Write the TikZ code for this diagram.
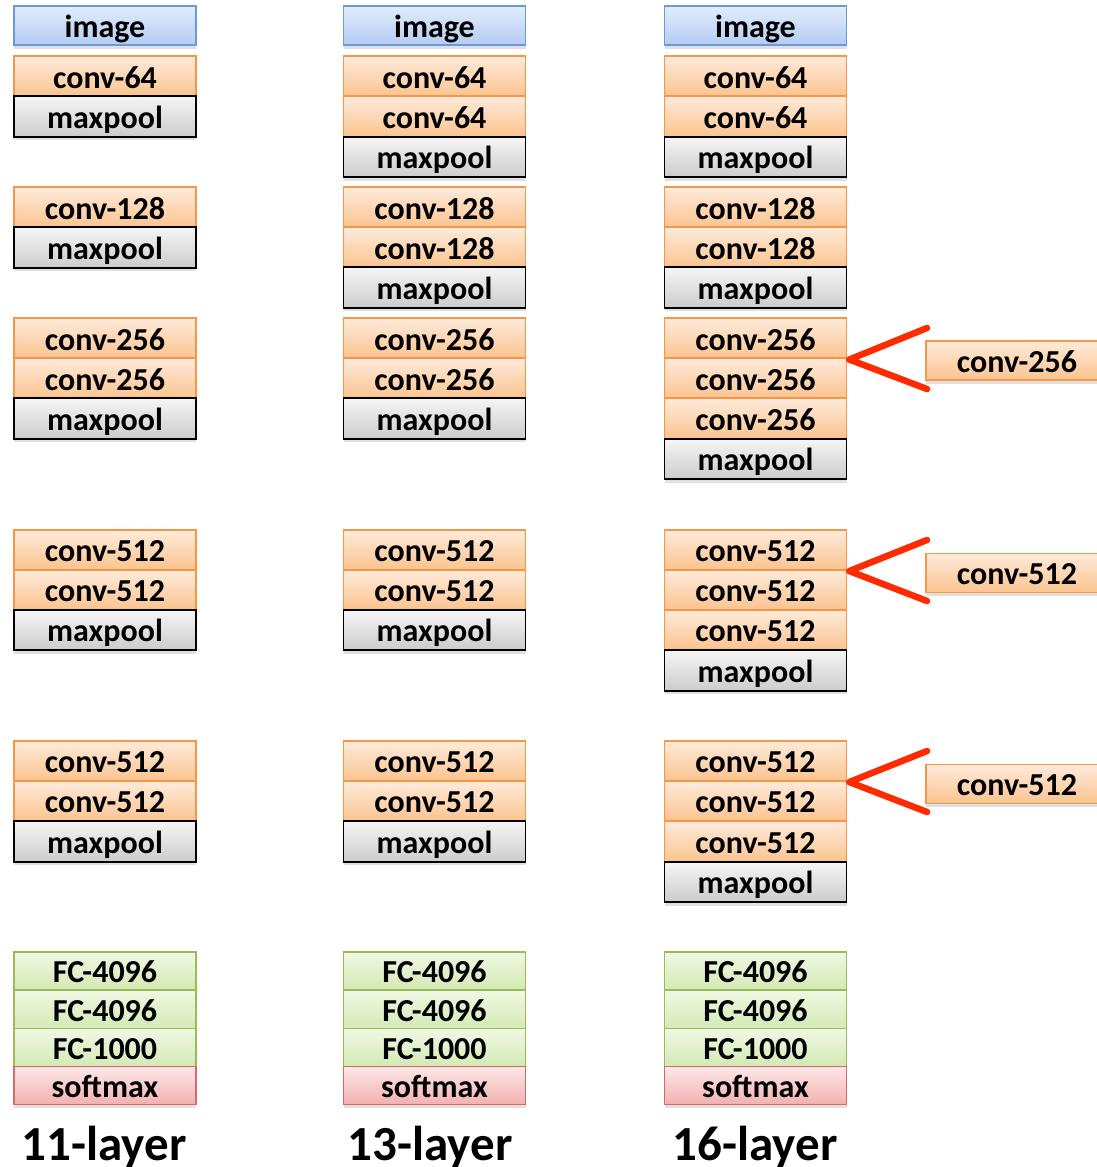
\documentclass[tikz,border=0pt]{standalone}
\usepackage{fontspec}
\setmainfont{Carlito}
\usetikzlibrary{shadows}

\definecolor{imgTop}{HTML}{E2ECFC}
\definecolor{imgBot}{HTML}{B4CCF2}
\definecolor{imgLine}{HTML}{6A9BD8}
\definecolor{convTop}{HTML}{FEEBDB}
\definecolor{convBot}{HTML}{FBC38E}
\definecolor{convLine}{HTML}{F79646}
\definecolor{poolTop}{HTML}{F5F5F5}
\definecolor{poolBot}{HTML}{CCCCCC}
\definecolor{fcTop}{HTML}{F0F8E4}
\definecolor{fcBot}{HTML}{D4E9B4}
\definecolor{fcLine}{HTML}{9BBB59}
\definecolor{smTop}{HTML}{FDE8E8}
\definecolor{smBot}{HTML}{F3B0B0}
\definecolor{smLine}{HTML}{D46A6A}
\definecolor{linkRed}{HTML}{FF2A00}

\tikzset{
  layer/.style={minimum width=182pt, minimum height=40.5pt, inner sep=0pt,
    line width=1.6pt, text height=23pt, text depth=0pt,
    font=\fontsize{32}{32}\selectfont\bfseries,
    drop shadow={shadow xshift=0pt, shadow yshift=-3.5pt, opacity=0.12, fill=black}},
  imgbox/.style={layer, minimum height=39pt, top color=imgTop, bottom color=imgBot, draw=imgLine},
  convbox/.style={layer, top color=convTop, bottom color=convBot, draw=convLine},
  poolbox/.style={layer, top color=poolTop, bottom color=poolBot, draw=black},
  fcbox/.style={layer, minimum height=38pt, top color=fcTop, bottom color=fcBot, draw=fcLine},
  smbox/.style={layer, minimum height=38pt, top color=smTop, bottom color=smBot, draw=smLine},
  depth/.style={font=\fontsize{49}{49}\selectfont\bfseries, inner sep=0pt, anchor=base},
  redlink/.style={draw=linkRed, line width=6.5pt, line cap=round, line join=round}
}

\begin{document}
\begin{tikzpicture}[x=1pt, y=-1pt]
  \useasboundingbox[fill=white] (0,0) rectangle (1096,1167);

  % 11-layer network
  \node[imgbox]  (a1)  at (105,25.5) {image};
  \node[convbox] (a2)  at (105,76.5) {conv-64};
  \node[poolbox] (a3)  at (105,116.5) {maxpool};
  \node[convbox] (a4)  at (105,207.5) {conv-128};
  \node[poolbox] (a5)  at (105,247.5) {maxpool};
  \node[convbox] (a6)  at (105,338.5) {conv-256};
  \node[convbox] (a7)  at (105,378.5) {conv-256};
  \node[poolbox] (a8)  at (105,418.5) {maxpool};
  \node[convbox] (a9)  at (105,550) {conv-512};
  \node[convbox] (a10) at (105,590) {conv-512};
  \node[poolbox] (a11) at (105,630) {maxpool};
  \node[convbox] (a12) at (105,761) {conv-512};
  \node[convbox] (a13) at (105,801) {conv-512};
  \node[poolbox] (a14) at (105,841.5) {maxpool};
  \node[fcbox]   (a15) at (105,971) {FC-4096};
  \node[fcbox]   (a16) at (105,1009.5) {FC-4096};
  \node[fcbox]   (a17) at (105,1047.5) {FC-1000};
  \node[smbox]   (a18) at (105,1085.5) {softmax};
  \node[depth]   (la)  at (104,1160) {11-layer};

  % 13-layer network
  \node[imgbox]  (b1)  at (434.5,25.5) {image};
  \node[convbox] (b2)  at (434.5,76.5) {conv-64};
  \node[convbox] (b3)  at (434.5,116.5) {conv-64};
  \node[poolbox] (b4)  at (434.5,157) {maxpool};
  \node[convbox] (b5)  at (434.5,207.5) {conv-128};
  \node[convbox] (b6)  at (434.5,247.5) {conv-128};
  \node[poolbox] (b7)  at (434.5,287.5) {maxpool};
  \node[convbox] (b8)  at (434.5,338.5) {conv-256};
  \node[convbox] (b9)  at (434.5,378.5) {conv-256};
  \node[poolbox] (b10) at (434.5,418.5) {maxpool};
  \node[convbox] (b11) at (434.5,550) {conv-512};
  \node[convbox] (b12) at (434.5,590) {conv-512};
  \node[poolbox] (b13) at (434.5,630) {maxpool};
  \node[convbox] (b14) at (434.5,761) {conv-512};
  \node[convbox] (b15) at (434.5,801) {conv-512};
  \node[poolbox] (b16) at (434.5,841.5) {maxpool};
  \node[fcbox]   (b17) at (434.5,971) {FC-4096};
  \node[fcbox]   (b18) at (434.5,1009.5) {FC-4096};
  \node[fcbox]   (b19) at (434.5,1047.5) {FC-1000};
  \node[smbox]   (b20) at (434.5,1085.5) {softmax};
  \node[depth]   (lb)  at (430,1160) {13-layer};

  % 16-layer network
  \node[imgbox]  (c1)  at (755.5,25.5) {image};
  \node[convbox] (c2)  at (755.5,76.5) {conv-64};
  \node[convbox] (c3)  at (755.5,116.5) {conv-64};
  \node[poolbox] (c4)  at (755.5,157) {maxpool};
  \node[convbox] (c5)  at (755.5,207.5) {conv-128};
  \node[convbox] (c6)  at (755.5,247.5) {conv-128};
  \node[poolbox] (c7)  at (755.5,287.5) {maxpool};
  \node[convbox] (c8)  at (755.5,338.5) {conv-256};
  \node[convbox] (c9)  at (755.5,378.5) {conv-256};
  \node[convbox] (c10) at (755.5,418.5) {conv-256};
  \node[poolbox] (c11) at (755.5,459) {maxpool};
  \node[convbox] (c12) at (755.5,550) {conv-512};
  \node[convbox] (c13) at (755.5,590) {conv-512};
  \node[convbox] (c14) at (755.5,630) {conv-512};
  \node[poolbox] (c15) at (755.5,670.5) {maxpool};
  \node[convbox] (c16) at (755.5,761) {conv-512};
  \node[convbox] (c17) at (755.5,801) {conv-512};
  \node[convbox] (c18) at (755.5,841.5) {conv-512};
  \node[poolbox] (c19) at (755.5,882) {maxpool};
  \node[fcbox]   (c20) at (755.5,971) {FC-4096};
  \node[fcbox]   (c21) at (755.5,1009.5) {FC-4096};
  \node[fcbox]   (c22) at (755.5,1047.5) {FC-1000};
  \node[smbox]   (c23) at (755.5,1085.5) {softmax};
  \node[depth]   (lc)  at (755,1160) {16-layer};

  % added conv layers
  \node[convbox, minimum height=39pt] (x1) at (1017,360.5) {conv-256};
  \node[convbox, minimum height=39pt] (x2) at (1017,573) {conv-512};
  \node[convbox, minimum height=39pt] (x3) at (1017,784) {conv-512};

  % red wedges marking where the extra layers go
  \coordinate (t1) at (c8.south east);
  \coordinate (t2) at (c12.south east);
  \coordinate (t3) at (c16.south east);
  \coordinate (u1) at (927,328);  \coordinate (v1) at (927,389);
  \coordinate (u2) at (927,540);  \coordinate (v2) at (927,601);
  \coordinate (u3) at (927,751);  \coordinate (v3) at (927,812);
  \draw[redlink] (u1) -- ([xshift=2pt]t1) -- (v1);
  \draw[redlink] (u2) -- ([xshift=2pt]t2) -- (v2);
  \draw[redlink] (u3) -- ([xshift=2pt]t3) -- (v3);
\end{tikzpicture}
\end{document}
